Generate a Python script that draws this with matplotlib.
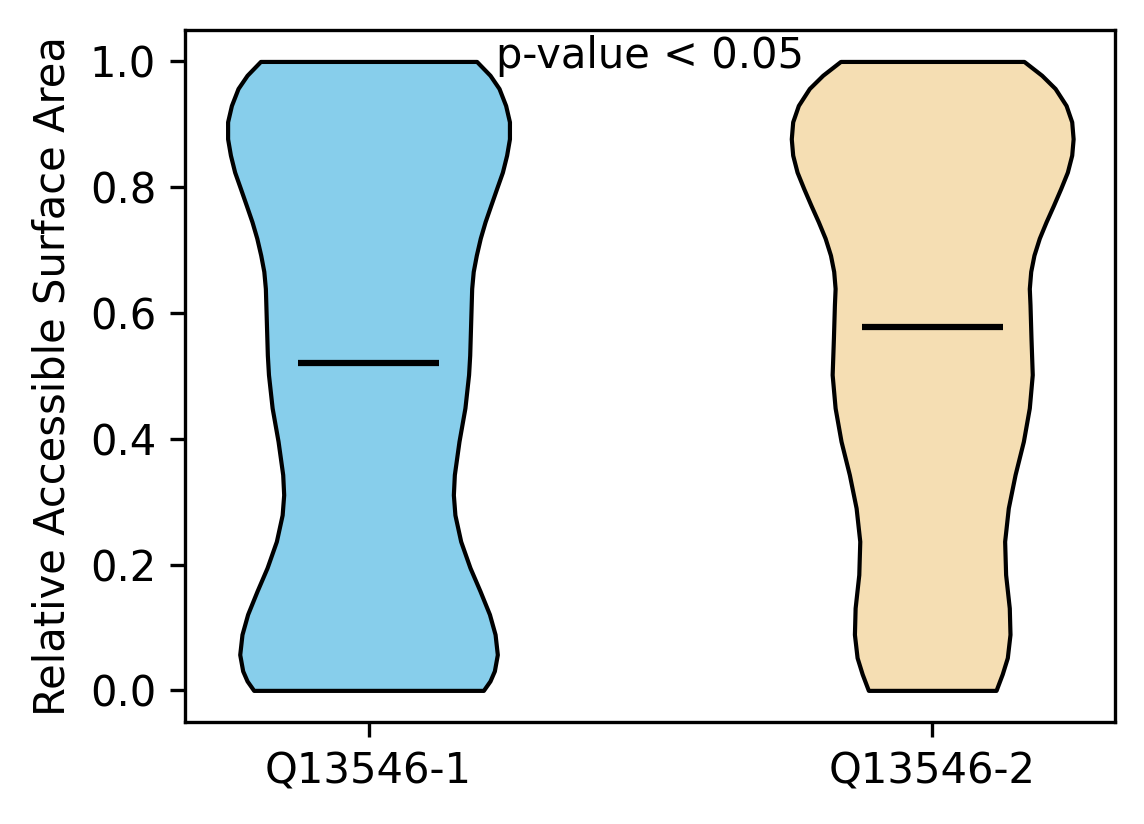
import numpy as np
import matplotlib
matplotlib.use("Agg")
import matplotlib.pyplot as plt

labels = ["Q13546-1", "Q13546-2"]
colors = ["#87CEEB", "#F5DEB3"]
centre_line = [0.521, 0.577]

# density profile (relative width, max = 1)
y1 = [0.0, 0.015, 0.031, 0.057, 0.089, 0.121, 0.158, 0.195, 0.237, 0.279,
      0.311, 0.343, 0.396, 0.449, 0.502, 0.533, 0.586, 0.639, 0.666, 0.692,
      0.719, 0.745, 0.771, 0.798, 0.824, 0.851, 0.877, 0.904, 0.930, 0.957,
      0.978, 1.0]
w1 = [0.815, 0.862, 0.893, 0.914, 0.898, 0.858, 0.791, 0.720, 0.654, 0.613,
      0.602, 0.609, 0.642, 0.684, 0.710, 0.718, 0.725, 0.732, 0.743, 0.765,
      0.793, 0.827, 0.867, 0.909, 0.95, 0.98, 1.0, 1.0, 0.973, 0.926,
      0.862, 0.767]
y2 = [0.0, 0.026, 0.052, 0.089, 0.131, 0.184, 0.237, 0.290, 0.343, 0.396,
      0.449, 0.502, 0.560, 0.613, 0.639, 0.666, 0.692, 0.719, 0.745, 0.771,
      0.798, 0.824, 0.851, 0.877, 0.904, 0.930, 0.957, 0.978, 1.0]
w2 = [0.453, 0.497, 0.533, 0.552, 0.547, 0.521, 0.514, 0.540, 0.588, 0.647,
      0.689, 0.710, 0.701, 0.694, 0.689, 0.699, 0.722, 0.760, 0.808, 0.860,
      0.912, 0.959, 0.990, 1.0, 0.990, 0.950, 0.872, 0.777, 0.651]

stats = []
for ys, ws, m in [(y1, w1, centre_line[0]), (y2, w2, centre_line[1])]:
    stats.append({"coords": np.array(ys), "vals": np.array(ws),
                  "mean": m, "median": m, "min": min(ys), "max": max(ys),
                  "quantiles": []})

fig = plt.figure(figsize=(1144 / 300, 824 / 300), dpi=300)
ax = fig.add_axes([0.162, 0.124, 0.813, 0.8396])

parts = ax.violin(stats, positions=[1, 2], widths=0.5,
                  showmeans=False, showextrema=False, showmedians=True)
for body, c in zip(parts["bodies"], colors):
    body.set_facecolor(c)
    body.set_edgecolor("black")
    body.set_linewidth(1)
    body.set_alpha(1)
parts["cmedians"].set_color("black")
parts["cmedians"].set_linewidth(1.5)

ax.set_xticks([1, 2])
ax.set_xticklabels(labels)
ax.set_ylabel("Relative Accessible Surface Area")
ax.text(1.5, 0.99, "p-value < 0.05", ha="center")

fig.savefig("out.png", dpi=300)
